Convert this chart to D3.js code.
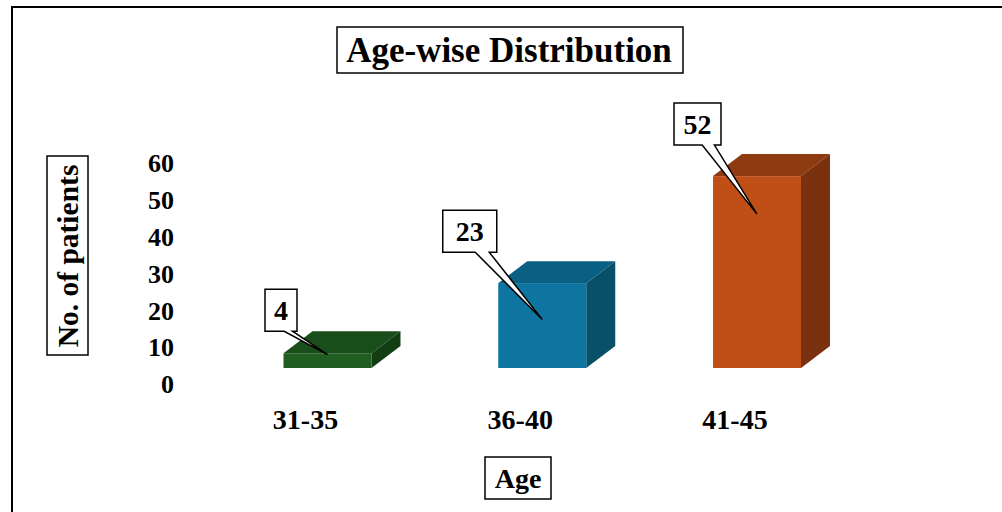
<!DOCTYPE html>
<html>
<head>
<meta charset="utf-8">
<script src="https://cdn.jsdelivr.net/npm/d3@7/dist/d3.min.js"></script>
<style>
  html, body { margin: 0; padding: 0; background: #fff; }
  svg { display: block; }
  text { font-family: "Liberation Serif", "Times New Roman", serif; font-weight: bold; fill: #000; }
</style>
</head>
<body>
<svg id="chart" width="1002" height="512"></svg>
<script>
// Age groups and patient counts
const ageGroups = ["31-35", "36-40", "41-45"];
const patientCounts = [4, 23, 52];
const yTickValues = [0, 10, 20, 30, 40, 50, 60];

// Face colours per bar: front, top, side
const frontColors = ["#1f5e20", "#0d75a0", "#c04f17"];
const topColors = ["#194d1a", "#0a6082", "#8f3b12"];
const sideColors = ["#133e14", "#084f6a", "#7a3110"];

// Callout box placement relative to each bar (centre dx, top dy, width)
const calloutLayout = [
  { dx: -46.5, dy: -64, w: 32 },
  { dx: -72.5, dy: -73, w: 54 },
  { dx: -59.5, dy: -73, w: 47 }
];

const svg = d3.select("#chart");
const depthX = 29, depthY = -22, barW = 88;

const x = d3.scalePoint().domain(ageGroups).range([327.5, 757]);
const y = d3.scaleLinear().domain([0, 60]).range([368, 146.6]);

// Outer frame (top and left edges)
svg.append("path")
  .attr("d", "M12,512 V7 H1002")
  .attr("fill", "none").attr("stroke", "#000").attr("stroke-width", 2);

// Title
svg.append("rect").attr("x", 337).attr("y", 27).attr("width", 346).attr("height", 46)
  .attr("fill", "#fff").attr("stroke", "#000").attr("stroke-width", 1.5);
svg.append("text").attr("x", 509).attr("y", 62).attr("text-anchor", "middle")
  .style("font-size", "35px").text("Age-wise Distribution");

// Y axis title
svg.append("rect").attr("x", 47).attr("y", 156).attr("width", 41).attr("height", 199)
  .attr("fill", "#fff").attr("stroke", "#000").attr("stroke-width", 1.5);
svg.append("text")
  .attr("transform", "translate(78,256) rotate(-90)")
  .attr("text-anchor", "middle")
  .style("font-size", "29.5px").text("No. of patients");

// Y axis tick labels
const yAxis = d3.axisLeft(y).tickValues(yTickValues).tickSize(0).tickPadding(0);
const gy = svg.append("g").attr("transform", "translate(174,16.5)").call(yAxis);
gy.select(".domain").remove();
gy.selectAll("text")
  .style("font-family", "\"Liberation Serif\", \"Times New Roman\", serif")
  .style("font-weight", "bold").style("font-size", "26px").attr("fill", "#000");

// 3D bars
const data = ageGroups.map((g, i) => ({ g, v: patientCounts[i], i }));
const bars = svg.append("g").selectAll("g").data(data).join("g");

bars.each(function (d) {
  const g = d3.select(this);
  const x0 = x(d.g) - barW / 2, x1 = x(d.g) + barW / 2;
  const yt = y(d.v), yb = y(0);
  // top face
  g.append("path")
    .attr("d", `M${x0},${yt} L${x0 + depthX},${yt + depthY} L${x1 + depthX},${yt + depthY} L${x1},${yt} Z`)
    .attr("fill", topColors[d.i]);
  // side face
  g.append("path")
    .attr("d", `M${x1},${yt} L${x1 + depthX},${yt + depthY} L${x1 + depthX},${yb + depthY} L${x1},${yb} Z`)
    .attr("fill", sideColors[d.i]);
  // front face
  g.append("rect")
    .attr("x", x0).attr("y", yt).attr("width", barW).attr("height", yb - yt)
    .attr("fill", frontColors[d.i]);
});

// Category labels
svg.append("g").selectAll("text").data(ageGroups).join("text")
  .attr("x", d => x(d) - 22).attr("y", 429).attr("text-anchor", "middle")
  .style("font-size", "28px").text(d => d);

// X axis title
svg.append("rect").attr("x", 485).attr("y", 457).attr("width", 66).attr("height", 42)
  .attr("fill", "#fff").attr("stroke", "#000").attr("stroke-width", 1.5);
svg.append("text").attr("x", 518).attr("y", 488).attr("text-anchor", "middle")
  .style("font-size", "28px").text("Age");

// Value callouts
const callouts = svg.append("g").selectAll("g").data(data).join("g");
callouts.each(function (d) {
  const g = d3.select(this);
  const L = calloutLayout[d.i];
  const cx = x(d.g);
  const bw = L.w, bh = 42;
  const bx = cx + L.dx - bw / 2, by = y(d.v) + L.dy;
  const tipX = cx;
  const tipY = Math.min(y(d.v) + 38, (y(d.v) + y(0)) / 2 - 6);
  const p1 = bx + bw * 0.6, p2 = bx + bw * 0.86;
  g.append("path")
    .attr("d", `M${bx},${by} H${bx + bw} V${by + bh} H${p2} L${tipX},${tipY} L${p1},${by + bh} H${bx} Z`)
    .attr("fill", "#fff").attr("stroke", "#000").attr("stroke-width", 1.5)
    .attr("stroke-linejoin", "miter");
  g.append("text").attr("x", bx + bw / 2).attr("y", by + 31).attr("text-anchor", "middle")
    .style("font-size", "28px").text(d.v);
});
</script>
</body>
</html>
